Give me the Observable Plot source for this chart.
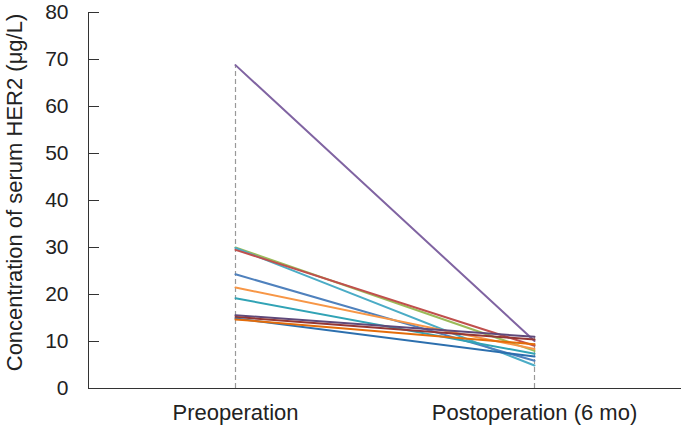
<!DOCTYPE html>
<html>
<head>
<meta charset="utf-8">
<script src="https://cdn.jsdelivr.net/npm/d3@7"></script>
<script src="https://cdn.jsdelivr.net/npm/@observablehq/plot@0.6"></script>
<style>
  html, body { margin: 0; padding: 0; background: #fff; }
  #chart svg { display: block; }
</style>
</head>
<body>
<div id="chart"></div>
<script>
const categories = ["Preoperation", "Postoperation (6 mo)"];
const patients = ["P1","P2","P3","P4","P5","P6","P7","P8","P9","P10","P11"];
const preValues  = [68.8, 30.0, 29.9, 29.5, 24.3, 21.5, 19.2, 15.6, 15.2, 14.9, 14.7];
const postValues = [10.1, 8.0, 4.9, 9.1, 5.9, 8.4, 7.4, 11.0, 10.4, 6.8, 9.4];
const lineColors = ["#8064A2","#9BBB59","#4BACC6","#C0504D","#4F81BD","#F79646","#31A3B5","#5F497A","#943634","#2C6FAE","#E46C0A"];
const yTicks = [0,10,20,30,40,50,60,70,80];
const yLabel = "Concentration of serum HER2 (μg/L)";

const data = [];
patients.forEach((p, i) => {
  data.push({patient: p, stage: categories[0], value: preValues[i], color: lineColors[i]});
  data.push({patient: p, stage: categories[1], value: postValues[i], color: lineColors[i]});
});
const maxes = categories.map((c, j) => ({stage: c, value: d3.max(j === 0 ? preValues : postValues)}));

const font = '"Liberation Sans", Arial, sans-serif';

const chart = Plot.plot({
  width: 681,
  height: 435,
  marginLeft: 88,
  marginRight: 0,
  marginTop: 12,
  marginBottom: 47,
  style: {fontFamily: font, fontSize: "21px", color: "#222", background: "#fff"},
  x: {type: "point", domain: categories, range: [235, 534], padding: 0},
  y: {domain: [0, 80]},
  marks: [
    Plot.ruleX(maxes, {x: "stage", y1: 0, y2: "value", stroke: "#999", strokeWidth: 1.2, strokeDasharray: "5,3"}),
    Plot.line(data, {x: "stage", y: "value", z: "patient", stroke: "color", strokeWidth: 2}),
    Plot.axisY({ticks: yTicks, tickSize: -11, tickPadding: 31, stroke: "#333", fontSize: 21, label: null}),
    Plot.text([yLabel], {frameAnchor: "left", dx: -74, dy: -8, rotate: -90, textAnchor: "middle", lineAnchor: "middle", fontSize: 22, fill: "#222"}),
    Plot.axisX({tickSize: 0, tickPadding: 16, fontSize: 22, label: null}),
    Plot.frame({anchor: "left", stroke: "#333"}),
    Plot.frame({anchor: "bottom", stroke: "#333"})
  ]
});
document.getElementById("chart").appendChild(chart);
</script>
</body>
</html>
